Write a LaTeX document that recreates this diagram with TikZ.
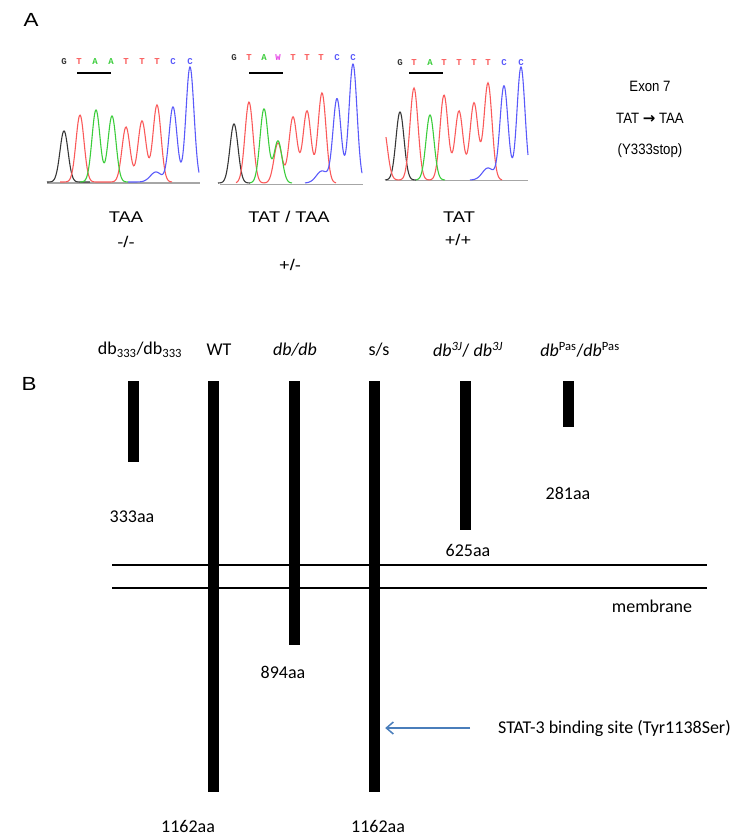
\documentclass[tikz,border=0pt]{standalone}
\usepackage{fontspec}
\setmainfont{Carlito}
\newfontfamily\arialwide{Liberation Sans}[FakeStretch=1.18]
\newfontfamily\arialnarrow{Liberation Sans}[FakeStretch=0.88]
\newfontfamily\arrowfont{DejaVu Sans}
\newfontfamily\seqfont{Liberation Mono}
\usetikzlibrary{arrows.meta,positioning}
\definecolor{tred}{RGB}{250,90,90}
\definecolor{tgreen}{RGB}{60,205,60}
\definecolor{tblue}{RGB}{90,90,250}
\definecolor{tblack}{RGB}{55,55,55}
\definecolor{tpink}{RGB}{230,70,230}
\definecolor{arrblue}{RGB}{74,126,187}
% one peak of a trace: {width}{centre}{height}
\newcommand{\pkw}[3]{#3*exp(-((\x-#2)/#1)*((\x-#2)/#1))}
\newcommand{\pk}[2]{\pkw{5.7}{#1}{#2}}
\tikzset{
  lbl/.style={font=\fontsize{18}{21}\selectfont,inner sep=0pt},
  albl/.style={font=\arialwide\fontsize{15.5}{18}\selectfont,inner sep=0pt},
  elbl/.style={font=\arialnarrow\fontsize{15}{18}\selectfont,inner sep=0pt},
  plbl/.style={font=\arialwide\fontsize{19}{22}\selectfont,inner sep=0pt},
  seq/.style={font=\seqfont\bfseries\fontsize{9}{10}\selectfont,inner sep=0pt},
  trace/.style={line width=1.1pt,samples=150},
  base/.style={draw=gray!70,line width=1pt},
  uline/.style={line width=1.5pt},
  bar/.style={rectangle,fill=black,minimum width=11pt,inner sep=0pt,anchor=north},
  mline/.style={line width=1.1pt},
  arr/.style={-{Straight Barb[length=7pt,width=12pt]},arrblue,line width=1.5pt},
}
\begin{document}
\begin{tikzpicture}[x=1pt,y=-1pt]
  \useasboundingbox (0,0) rectangle (740,837);
  % panel A: sequencing traces
  \node[plbl] (pa) at (31,20) {A};
  \draw[base] (47,183) -- (200,183);
  \draw[trace,tblack] plot[domain=47:90] (\x,{182-\pk{64}{51}});
  \draw[trace,tred] plot[domain=60:172] (\x,{182-\pk{80}{67}-\pk{126}{55}-\pk{142}{61}-\pk{157}{77}});
  \draw[trace,tgreen] plot[domain=80:128] (\x,{182-\pk{96}{72}-\pk{112}{66}});
  \draw[trace,tblue] plot[domain=128:199] (\x,{182-\pk{173}{75}-\pk{190}{115}-\pkw{8}{156}{10}});
  \draw[base] (220,184) -- (363,184);
  \draw[trace,tblack] plot[domain=218:250] (\x,{183-\pk{234}{59}});
  \draw[trace,tred] plot[domain=236:336] (\x,{183-\pk{249}{81}-\pk{278}{40}-\pk{293}{66}-\pk{307}{72}-\pk{322}{90}});
  \draw[trace,tgreen] plot[domain=250:292] (\x,{183-\pk{264}{74}-\pk{278}{42}});
  \draw[trace,tblue] plot[domain=305:362] (\x,{183-\pk{337}{84}-\pk{353}{119}-\pkw{8}{322}{12}});
  \draw[base] (386,181) -- (528,181);
  \draw[trace,tblack] plot[domain=385:416] (\x,{180-\pk{400}{68}});
  \draw[trace,tred] plot[domain=386:502] (\x,{180-\pkw{6}{383}{55}-\pk{414}{92}-\pk{444}{85}-\pk{459}{69}-\pk{474}{77}-\pk{488}{97}});
  \draw[trace,tgreen] plot[domain=416:445] (\x,{180-\pk{430}{65}});
  \draw[trace,tblue] plot[domain=470:528] (\x,{180-\pk{504}{94}-\pk{521}{113}-\pkw{8}{488}{12}});
  % called bases
  \foreach \i/\xx/\b/\c in {1/64/G/tblack,2/79/T/tred,3/95/A/tgreen,4/111/A/tgreen,5/126/T/tred,6/142/T/tred,7/157/T/tred,8/173/C/tblue,9/190/C/tblue}
    \node[seq,\c] (sa-\i) at (\xx,62) {\b};
  \foreach \i/\xx/\b/\c in {1/234/G/tblack,2/249/T/tred,3/264/A/tgreen,4/278/W/tpink,5/293/T/tred,6/307/T/tred,7/321/T/tred,8/337/C/tblue,9/353/C/tblue}
    \node[seq,\c] (sb-\i) at (\xx,58) {\b};
  \foreach \i/\xx/\b/\c in {1/400/G/tblack,2/414/T/tred,3/430/A/tgreen,4/444/T/tred,5/459/T/tred,6/474/T/tred,7/488/T/tred,8/504/C/tblue,9/521/C/tblue}
    \node[seq,\c] (sc-\i) at (\xx,63) {\b};
  \draw[uline] (77,73) -- (111,73);
  \draw[uline] (249,73) -- (283,73);
  \draw[uline] (409,73) -- (443,73);
  \node[albl] (g1) at (126,217) {TAA};
  \node[albl] (z1) at (126,242) {-/-};
  \node[albl] (g2) at (289,217) {TAT / TAA};
  \node[albl] (z2) at (290,265) {+/-};
  \node[albl] (g3) at (459,217) {TAT};
  \node[albl] (z3) at (458,240) {+/+};
  \node[elbl] (ex1) at (650,86) {Exon 7};
  \node[elbl] (ex2) at (650,118) {TAT {\arrowfont\bfseries →} TAA};
  \node[elbl] (ex3) at (650,151) {(Y333stop)};
  % panel B: protein lengths
  \node[plbl] (pb) at (29,384) {B};
  \draw[mline] (112,565) -- (707,565);
  \draw[mline] (112,588) -- (707,588);
  \foreach \n/\xx/\hh in {db333/133.5/81,wt/213.5/411,dbdb/294.5/264,ss/374.5/411,dbtj/465.5/149,dbpas/568.5/46}
    \node[bar,minimum height=\hh pt] (b-\n) at (\xx,381) {};
  \node[lbl] (l-db333) at (140,350) {db\textsubscript{333}/db\textsubscript{333}};
  \node[lbl] (l-wt) at (219,350) {WT};
  \node[lbl] (l-dbdb) at (295,350) {\textit{db/db}};
  \node[lbl] (l-ss) at (379,350) {s/s};
  \node[lbl] (l-dbtj) at (468,350) {\textit{db\textsuperscript{3J}}/ \textit{db\textsuperscript{3J}}};
  \node[lbl] (l-dbpas) at (580,350) {\textit{db}\textsuperscript{Pas}/\textit{db}\textsuperscript{Pas}};
  \node[lbl] (a-db333) at (132,517) {333aa};
  \node[lbl] (a-dbpas) at (568,493) {281aa};
  \node[lbl] (a-dbtj) at (468,550) {625aa};
  \node[lbl] (a-dbdb) at (283,672) {894aa};
  \node[lbl] (a-wt) at (188,826) {1162aa};
  \node[lbl] (a-ss) at (378,826) {1162aa};
  \node[lbl] (mem) at (652,606) {membrane};
  \node[lbl,anchor=west] (stat) at (498,728) {STAT-3 binding site (Tyr1138Ser)};
  \draw[arr,shorten >=5pt] ([xshift=-28pt]stat.west) -- (stat.west -| b-ss.east);
\end{tikzpicture}
\end{document}
